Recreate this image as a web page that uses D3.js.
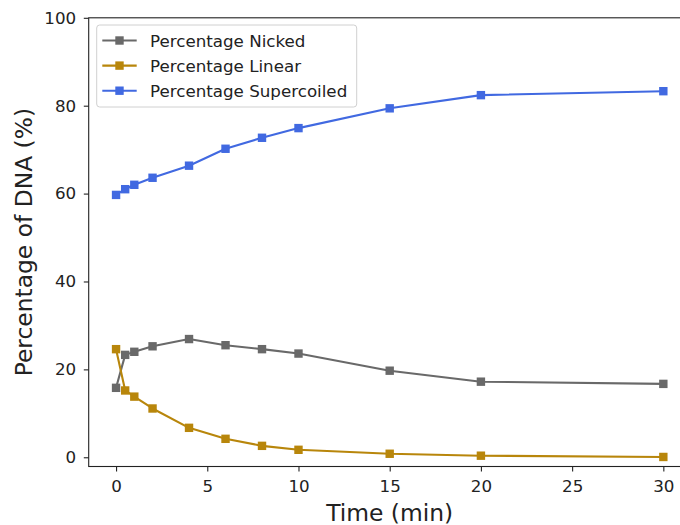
<!DOCTYPE html>
<html>
<head>
<meta charset="utf-8">
<script src="https://cdn.jsdelivr.net/npm/d3@7"></script>
<style>
  html, body { margin: 0; padding: 0; background: #fff; }
  svg { display: block; font-family: "DejaVu Sans", sans-serif; }
</style>
</head>
<body>
<svg id="chart" width="680" height="525"></svg>
<script>
// Time points (min)
const times = [0, 0.5, 1, 2, 4, 6, 8, 10, 15, 20, 30];
// Percentage of each DNA form at each time point
const nicked      = [15.8, 23.3, 24.0, 25.25, 26.9, 25.5, 24.6, 23.6, 19.7, 17.2, 16.7];
const linear      = [24.6, 15.2, 13.8, 11.1, 6.7, 4.2, 2.6, 1.7, 0.8, 0.36, 0.07];
const supercoiled = [59.7, 61.0, 62.0, 63.6, 66.35, 70.2, 72.7, 74.9, 79.4, 82.4, 83.3];

const xTicks = [0, 5, 10, 15, 20, 25, 30];
const yTicks = [0, 20, 40, 60, 80, 100];

const seriesNames  = ["Percentage Nicked", "Percentage Linear", "Percentage Supercoiled"];
const seriesValues = [nicked, linear, supercoiled];
const seriesColors = ["#696969", "#b8860b", "#4169e1"];

const svg = d3.select("#chart");

const x = d3.scaleLinear().domain([-1.5, 31.5]).range([88.7, 690.7]);
const y = d3.scaleLinear().domain([-2.1, 100]).range([466.5, 17.8]);

const plotLeft = x.range()[0], plotRight = x.range()[1];
const plotTop = y.range()[1], plotBottom = y.range()[0];

const tickFont = "16.7px";
const labelFont = "23.4px";

// Axes
const xAxis = d3.axisBottom(x).tickValues(xTicks).tickSize(4.9).tickPadding(8.3).tickFormat(d3.format("d"));
const yAxis = d3.axisLeft(y).tickValues(yTicks).tickSize(4.9).tickPadding(7.6).tickFormat(d3.format("d"));

const gx = svg.append("g").attr("transform", `translate(0,${plotBottom})`).call(xAxis);
const gy = svg.append("g").attr("transform", `translate(${plotLeft},0)`).call(yAxis);

[gx, gy].forEach(g => {
  g.select(".domain").remove();
  g.selectAll(".tick line").attr("stroke", "#222").attr("stroke-width", 1.1);
  g.selectAll(".tick text").attr("fill", "#222").style("font-size", tickFont)
    .style("font-family", "'DejaVu Sans', sans-serif");
});

// Frame spines
svg.append("rect")
  .attr("x", plotLeft).attr("y", plotTop)
  .attr("width", plotRight - plotLeft).attr("height", plotBottom - plotTop)
  .attr("fill", "none").attr("stroke", "#222").attr("stroke-width", 1.1);

// Axis labels
svg.append("text")
  .attr("x", (plotLeft + plotRight) / 2).attr("y", 520.5)
  .attr("text-anchor", "middle").attr("fill", "#222")
  .style("font-size", labelFont).text("Time (min)");

svg.append("text")
  .attr("transform", `translate(31.5,${(plotTop + plotBottom) / 2}) rotate(-90)`)
  .attr("text-anchor", "middle").attr("fill", "#222")
  .style("font-size", labelFont).text("Percentage of DNA (%)");

// Lines and markers
const line = d3.line().x((d, i) => x(times[i])).y(d => y(d));
const ms = 8.4;

seriesValues.forEach((vals, k) => {
  const g = svg.append("g");
  g.append("path").datum(vals)
    .attr("d", line).attr("fill", "none")
    .attr("stroke", seriesColors[k]).attr("stroke-width", 2.1)
    .attr("stroke-linejoin", "round");
  g.selectAll("rect").data(vals).join("rect")
    .attr("x", (d, i) => x(times[i]) - ms / 2)
    .attr("y", d => y(d) - ms / 2)
    .attr("width", ms).attr("height", ms)
    .attr("fill", seriesColors[k]);
});

// Legend
const legend = svg.append("g");
legend.append("rect")
  .attr("x", 96.7).attr("y", 25).attr("width", 260).attr("height", 82)
  .attr("rx", 3).attr("ry", 3)
  .attr("fill", "rgba(255,255,255,0.8)").attr("stroke", "#d0d0d0").attr("stroke-width", 1);

seriesNames.forEach((name, k) => {
  const cy = 40.5 + k * 25.1;
  legend.append("line")
    .attr("x1", 102.3).attr("x2", 136.7).attr("y1", cy).attr("y2", cy)
    .attr("stroke", seriesColors[k]).attr("stroke-width", 2.1);
  legend.append("rect")
    .attr("x", 119.5 - ms / 2).attr("y", cy - ms / 2)
    .attr("width", ms).attr("height", ms).attr("fill", seriesColors[k]);
  legend.append("text")
    .attr("x", 150).attr("y", cy + 6)
    .attr("fill", "#222").style("font-size", tickFont).text(name);
});
</script>
</body>
</html>
